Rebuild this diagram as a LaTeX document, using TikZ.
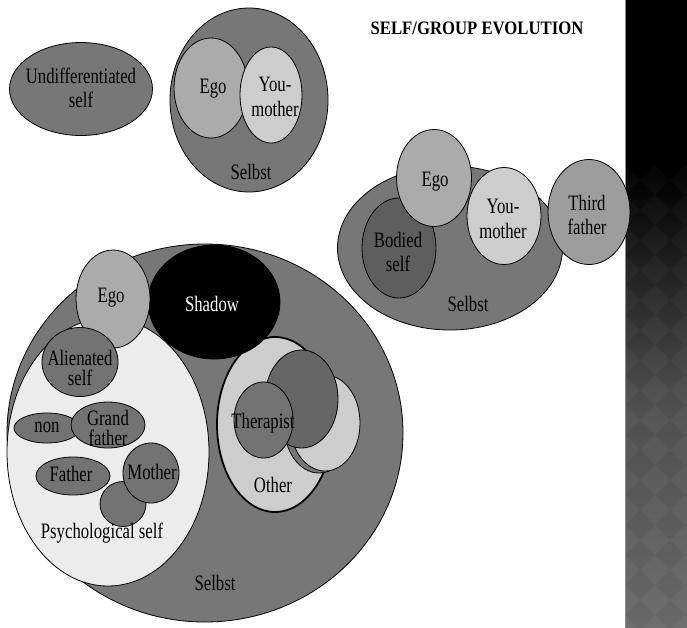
\documentclass[tikz,border=0pt]{standalone}
\usepackage{fontspec}
\setmainfont{Liberation Serif}[FakeStretch=0.76]
\newfontfamily\titlefont{Liberation Serif}[FakeStretch=0.88]
\usetikzlibrary{shapes.geometric}
\definecolor{gmid}{HTML}{777777}
\definecolor{gsmall}{HTML}{737373}
\definecolor{gego}{HTML}{ABABAB}
\definecolor{gym}{HTML}{CDCDCD}
\definecolor{gpsy}{HTML}{ECECEC}
\definecolor{gbod}{HTML}{5E5E5E}
\definecolor{gdark}{HTML}{666666}
\definecolor{gthird}{HTML}{9D9D9D}
\definecolor{barmid}{HTML}{505050}
\definecolor{barbot}{HTML}{6B6B6B}
\definecolor{barline}{HTML}{8C8C8C}
\tikzset{
  blob/.style={ellipse, draw=black, line width=0.8pt, inner sep=0pt},
  ell/.style 2 args={minimum width=#1pt, minimum height=#2pt},
  lbl/.style={font=\fontsize{22}{24.5}\selectfont, align=center, inner sep=0pt},
  lbltight/.style={font=\fontsize{22}{20.5}\selectfont, align=center, inner sep=0pt},
}
\begin{document}
\begin{tikzpicture}[x=1pt,y=-1pt]
\useasboundingbox (0,0) rectangle (687,627);
% side bar
\begin{scope}
\clip (625,0) rectangle (687,627);
\fill[black] (625,0) rectangle (687,172);
\shade[top color=black, bottom color=barmid] (625,171) rectangle (687,400);
\shade[top color=barmid, bottom color=barbot] (625,399) rectangle (687,627);
\foreach \i in {0,...,3}{
  \foreach \j in {0,...,16}{
    \fill[white, opacity=0.022] ({625+30*\i},{165+30*\j}) -- ++(15,15) -- ++(-15,15) -- ++(-15,-15) -- cycle;
    \fill[black, opacity=0.022] ({640+30*\i},{180+30*\j}) -- ++(15,15) -- ++(-15,15) -- ++(-15,-15) -- cycle;
  }
}
\end{scope}
\draw[barline, line width=0.8pt] (625.4,0) -- (625.4,627);

% title
\node[font=\titlefont\bfseries\fontsize{19}{22}\selectfont, inner sep=0pt] (title) at (477,28) {SELF/GROUP EVOLUTION};

% undifferentiated self
\node[blob, fill=gmid, ell={143}{93}] (undiff) at (81,89) {};
\node[lbl] (undifftxt) at (81,88) {Undifferentiated\\self};

% top group
\node[blob, fill=gmid, ell={158}{184}] (selbst1) at (249,100) {};
\node[blob, fill=gego, ell={74}{100}] (ego1) at (211,88) {};
\node[blob, fill=gym, ell={62}{96}] (ym1) at (271,95) {};
\node[lbl] (ego1txt) at (213,89) {Ego};
\node[lbl] (ym1txt) at (275,97) {You-\\mother};
\node[lbl] (selbst1txt) at (251,172) {Selbst};

% right group
\node[blob, fill=gmid, ell={225}{164}] (selbst2) at (450,248) {};
\node[blob, fill=gbod, ell={74}{100}] (bod) at (399,248) {};
\node[blob, fill=gego, ell={75}{97}] (ego2) at (434,178) {};
\node[blob, fill=gym, ell={74}{97}] (ym2) at (504,216) {};
\node[blob, fill=gthird, ell={82}{105}] (third) at (589,212) {};
\node[lbl] (ego2txt) at (435,182) {Ego};
\node[lbl] (ym2txt) at (503,219) {You-\\mother};
\node[lbl] (thirdtxt) at (587,215) {Third\\father};
\node[lbl] (bodtxt) at (398,252) {Bodied\\self};
\node[lbl] (selbst2txt) at (468,304) {Selbst};

% big group
\node[blob, fill=gmid, ell={396}{378}] (selbst3) at (205,433) {};
\node[blob, fill=gpsy, ell={202}{268}] (psy) at (108,452) {};
\node[blob, fill=gym, line width=1.8pt, ell={116}{175}] (other) at (275,424.5) {};
\node[blob, fill=gmid, ell={70}{96}] (oth1) at (319,425) {};
\node[blob, fill=gym, ell={70}{96}] (oth2) at (325,423) {};
\node[blob, fill=gdark, ell={73}{98}] (oth3) at (301.5,399) {};
\node[blob, fill=gsmall, ell={59}{76}] (ther) at (263.5,420) {};
\node[blob, fill=black, ell={132}{114}] (shadow) at (214,302) {};
\node[blob, fill=gego, ell={74}{98}] (ego3) at (113,299) {};
\node[blob, fill=gsmall, ell={76}{69}] (alien) at (80,362) {};
\node[blob, fill=gsmall, ell={66}{30}] (non) at (47,428) {};
\node[blob, fill=gsmall, ell={74}{46}] (grand) at (108,425) {};
\node[blob, fill=gsmall, ell={74}{38}] (father) at (73,476) {};
\node[blob, fill=gsmall, ell={46}{45}] (small) at (123,504) {};
\node[blob, fill=gsmall, ell={56}{60}] (mother) at (151,473) {};
\node[lbl] (ego3txt) at (111,298) {Ego};
\node[lbl, text=white] (shadowtxt) at (212,304) {Shadow};
\node[lbltight] (alientxt) at (80,368) {Alienated\\self};
\node[lbl] (nontxt) at (47,427) {non};
\node[lbltight] (grandtxt) at (108,428) {Grand\\father};
\node[lbl] (fathertxt) at (71,474) {Father};
\node[lbl] (mothertxt) at (152,472) {Mother};
\node[lbl] (psytxt) at (102,533) {Psychological self};
\node[lbl] (thertxt) at (263,423) {Therapist};
\node[lbl] (othertxt) at (273,485) {Other};
\node[lbl] (selbst3txt) at (215,583) {Selbst};
\end{tikzpicture}
\end{document}
